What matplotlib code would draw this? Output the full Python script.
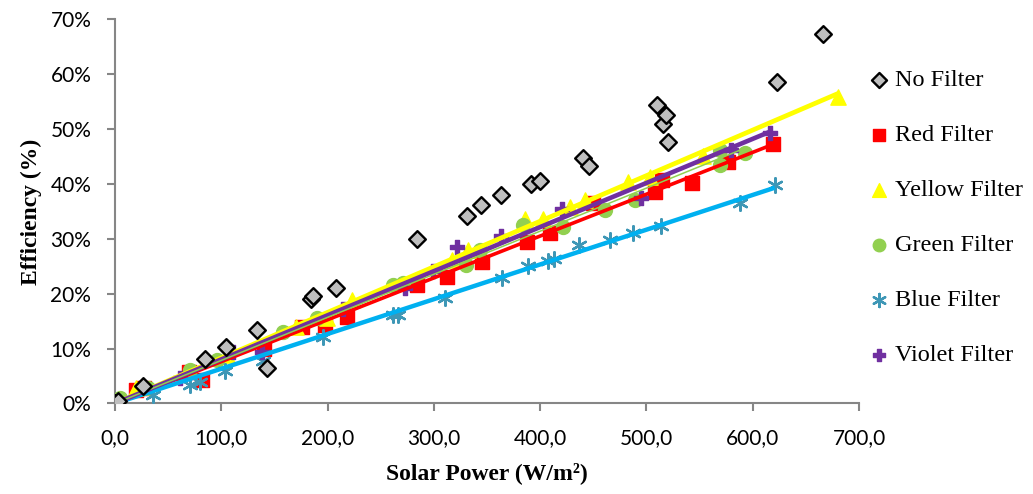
import numpy as np
import matplotlib
matplotlib.use("Agg")
import matplotlib.pyplot as plt
from matplotlib.ticker import FuncFormatter, MultipleLocator

# ---- data (Solar Power W/m2, Efficiency %) ----
no_x = [0, 3, 26.8, 84.7, 104.4, 142.6, 133.6, 184, 186.3, 207.5, 284, 331, 344.8, 362.7,
        391, 399.7, 440, 446, 509.7, 515.5, 518, 520, 622.6, 666]
no_y = [0, 0.4, 3.1, 8.1, 10.3, 6.5, 13.4, 19.0, 19.6, 21.1, 30.0, 34.2, 36.2, 38.0,
        40.0, 40.5, 44.7, 43.3, 54.4, 50.9, 52.5, 47.6, 58.6, 67.4]

red_x = [0, 20, 27, 70, 82, 140, 176, 198, 218, 284, 312, 345, 388, 409, 449.5, 508, 515, 543, 577, 619]
red_y = [0, 2.5, 2.9, 5.8, 4.3, 10.0, 14.0, 14.3, 15.8, 21.6, 23.1, 25.8, 29.5, 31.0, 36.5, 38.6, 40.7, 40.1, 44.0, 47.2]

yel_x = [0, 20, 105, 170.6, 199, 222.6, 316.6, 332, 385.6, 402.7, 428, 442, 482.8, 503, 553, 680]
yel_y = [0, 2.8, 8.8, 14.0, 15.5, 18.9, 26.1, 28.0, 33.7, 33.7, 35.8, 37.1, 40.4, 41.3, 45.0, 55.8]

grn_x = [0, 5, 31, 70.5, 95.6, 158.3, 189.7, 261.8, 271, 330.7, 343.3, 384, 421.6, 460.8, 489, 569, 569, 593]
grn_y = [0, 1.0, 2.8, 6.1, 7.9, 13.1, 15.5, 21.6, 21.9, 25.2, 28.0, 32.5, 32.2, 35.3, 37.0, 46.2, 43.5, 45.6]

blu_x = [0, 5, 36, 70.5, 80, 103.4, 139.5, 195.9, 261.8, 266.3, 310.4, 363.7, 388.7, 407.5, 412.9,
         437, 466, 487, 514, 587.8, 620.8]
blu_y = [0, 0.3, 1.5, 3.4, 4.0, 6.0, 7.8, 12.2, 16.2, 16.1, 19.3, 22.9, 25.1, 26.0, 26.3,
         28.8, 29.8, 31.0, 32.4, 36.6, 39.8]

vio_x = [0, 61, 111.3, 138, 214.7, 272.7, 299, 322, 362.7, 420.5, 495.3, 580, 616]
vio_y = [0, 4.6, 9.3, 9.4, 17.3, 21.0, 24.2, 28.5, 30.5, 35.4, 37.4, 46.2, 49.2]

labels = ["No Filter", "Red Filter", "Yellow Filter", "Green Filter", "Blue Filter", "Violet Filter"]

fig = plt.figure(figsize=(10.33, 4.94), dpi=100)
ax = fig.add_axes([0.1113, 0.1832, 0.8316 - 0.1113, 0.961 - 0.1832])

handles = []
h = ax.scatter(no_x, no_y, marker='D', s=8.5**2, facecolor='#BFBFBF', edgecolor='black', linewidths=1.7, zorder=4)
handles.append(h)
h = ax.scatter(red_x, red_y, marker='s', s=9.5**2, color='#FF0000', zorder=2)
handles.append(h)
h = ax.scatter(yel_x, yel_y, marker='^', s=11**2, color='#FFFF00', zorder=2)
handles.append(h)
h = ax.scatter(grn_x, grn_y, marker='o', s=10**2, color='#92D050', zorder=2)
handles.append(h)
h = ax.scatter(blu_x, blu_y, marker=(6, 2, 0), s=10.5**2, color='#3E97B6', linewidths=1.7, zorder=2)
handles.append(h)
h = ax.scatter(vio_x, vio_y, marker='P', s=9.5**2, color='#7030A0', zorder=2)
handles.append(h)

# linear trendlines through origin
def trend(xs, ys, color, lw, z):
    xs = np.asarray(xs, float); ys = np.asarray(ys, float)
    m = np.sum(xs * ys) / np.sum(xs * xs)
    xx = np.array([0, xs.max()])
    ax.plot(xx, m * xx, color=color, lw=lw, zorder=z, solid_capstyle='butt')

trend(red_x, red_y, '#FF0000', 2.6, 3.0)
trend(yel_x, yel_y, '#FFFF00', 3.4, 3.1)
trend(blu_x, blu_y, '#00B0F0', 3.2, 3.2)
trend(vio_x, vio_y, '#7030A0', 3.3, 3.3)
trend(grn_x, grn_y, '#92D050', 1.1, 3.4)

ax.set_xlim(0, 700)
ax.set_ylim(0, 70)
ax.xaxis.set_major_locator(MultipleLocator(100))
ax.yaxis.set_major_locator(MultipleLocator(10))
ax.xaxis.set_major_formatter(FuncFormatter(lambda v, p: f"{v:.1f}".replace('.', ',')))
ax.yaxis.set_major_formatter(FuncFormatter(lambda v, p: f"{v:.0f}%"))

for s in ['top', 'right']:
    ax.spines[s].set_visible(False)
for s in ['left', 'bottom']:
    ax.spines[s].set_color('#868686')
    ax.spines[s].set_linewidth(1.5)
    ax.spines[s].set_zorder(1)

ax.tick_params(axis='both', colors='#868686', width=1.5, length=6, labelcolor='black',
               labelsize=15)
ax.tick_params(axis='x', pad=12)
ax.tick_params(axis='y', pad=11)
for t in ax.get_xticklabels() + ax.get_yticklabels():
    t.set_fontfamily('Lato')

ax.set_xlabel("Solar Power (W/m²)", fontsize=17, fontweight='bold', family='Liberation Serif',
              labelpad=10)
ax.set_ylabel("Efficiency (%)", fontsize=17, fontweight='bold', family='Liberation Serif',
              labelpad=6)

leg = fig.legend(handles, labels, loc='upper left', bbox_to_anchor=(0.833, 0.88),
                 frameon=False, prop={'family': 'Liberation Serif', 'size': 17.5},
                 labelspacing=1.36, handlelength=0.7, handletextpad=0.3, borderaxespad=0,
                 scatterpoints=1, markerscale=0.9)

fig.savefig("out.png", dpi=100)
